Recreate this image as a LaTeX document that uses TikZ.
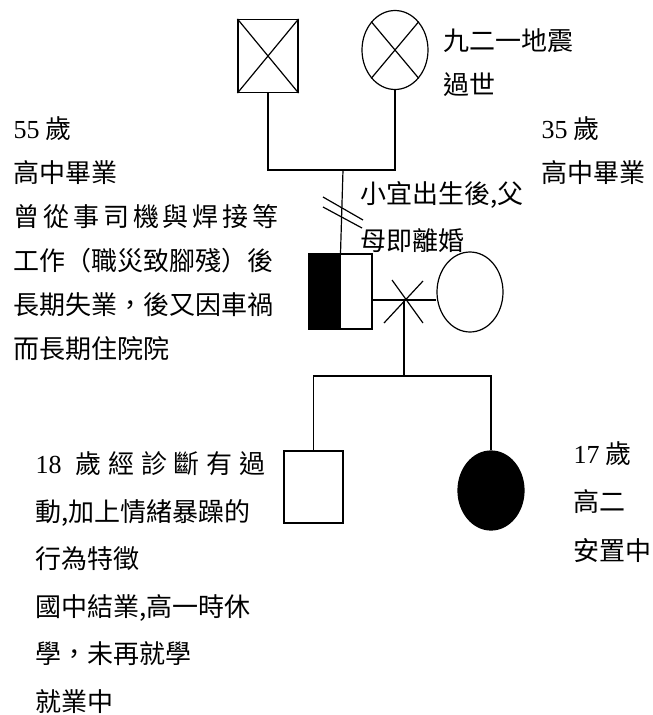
\documentclass[tikz,border=0pt]{standalone}
\usepackage{fontspec}
\newfontfamily\cjk{Noto Sans CJK TC}
\newfontfamily\num{Liberation Serif}
\usetikzlibrary{shapes.geometric}

\begin{document}
\begin{tikzpicture}[x=1pt, y=-1pt,
			male/.style={draw, rectangle, minimum width=60pt, minimum height=73pt, inner sep=0pt},
			female/.style={draw, ellipse, minimum width=66pt, minimum height=79pt, inner sep=0pt},
			note/.style={anchor=base west, align=left, inner sep=0pt, font=\cjk\fontsize{26}{44}\selectfont},
			line width=1.2pt]
	\useasboundingbox (0,0) rectangle (653,715);
	% grandparents
	\node[male] (gf) at (268,56) {};
	\node[female] (gm) at (395,50) {};
	\draw (gf.north west) -- (gf.south east) (gf.north east) -- (gf.south west);
	\draw (gm.north west) -- (gm.south east) (gm.north east) -- (gm.south west);
	\coordinate (gp) at (343,170);
	\draw (gf.south) |- (gp) -| (gm.south);
	% parents
	\node[male, minimum width=63pt, minimum height=75pt] (fa) at (340.5,291.5) {};
	\fill (fa.north west) rectangle (fa.south);
	\draw (fa.north west) rectangle (fa.south east);
	\node[female, minimum height=80pt] (mo) at (470,292) {};
	\draw (gp) -- (fa.north);
	\draw (323,197) -- (363,220) (323,207) -- (362,228);
	\coordinate (m) at (404,300);
	\draw (fa.east |- m) -- (mo.west |- m);
	\draw ([shift={(-12,-20)}]m) -- ([shift={(19,23)}]m);
	\draw ([shift={(19,-19)}]m) -- ([shift={(-20,23)}]m);
	% children
	\node[male, minimum width=59pt, minimum height=72pt] (so) at (313.5,487) {};
	\node[female, fill] (da) at (491,490.5) {};
	\coordinate (ch) at (404,376);
	\draw (m) -- (ch);
	\draw (so.north) |- (ch) -| (da.north);
	% notes (anchored at the baseline of the last line)
	\node[note] (gmnote) at (443,94) {九二一地震\\過世};
	\node[note] (fanote) at (13,358) {{\num 55} 歲\\高中畢業\\\makebox[264pt][s]{曾 從 事 司 機 與 焊 接 等}\\工作（職災致腳殘）後\\長期失業，後又因車禍\\而長期住院院};
	\node[note] (monote) at (541,182) {{\num 35} 歲\\高中畢業};
	\node[note, font=\cjk\fontsize{26}{47}\selectfont] (divnote) at (360,250) {小宜出生後,父\\母即離婚};
	\node[note, font=\cjk\fontsize{26}{47.5}\selectfont] (sonote) at (35,711) {\makebox[230pt][s]{{\num 18} \ 歲 經 診 斷 有 過}\\動,加上情緒暴躁的\\行為特徵\\國中結業,高一時休\\學，未再就學\\就業中};
	\node[note, font=\cjk\fontsize{26}{48.5}\selectfont] (danote) at (573,560) {{\num 17} 歲\\高二\\安置中};
\end{tikzpicture}
\end{document}
